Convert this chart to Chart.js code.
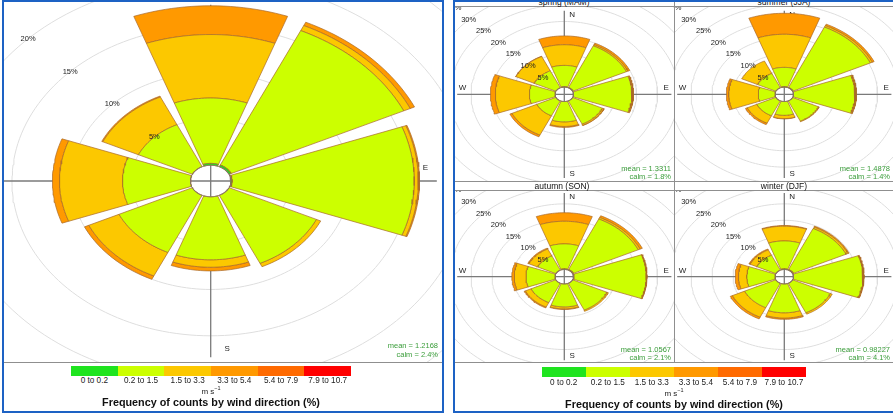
<!DOCTYPE html>
<html lang="en">
<head>
<meta charset="UTF-8">
<title>Wind rose</title>
<style>
    body {
        margin: 0;
        background: #fff;
        font-family: 'Liberation Sans', Arial, sans-serif;
        width: 893px;
        height: 415px;
        overflow: hidden;
        position: relative;
    }
    .frame {
        position: absolute;
        border: 2px solid #1d62c4;
        box-sizing: border-box;
        z-index: 5;
    }
    .rule {
        position: absolute;
        background: #8f8f8f;
        z-index: 3;
    }
    canvas { position: absolute; }
    .txt {
        position: absolute;
        white-space: nowrap;
        line-height: 1;
        z-index: 4;
    }
    .strip { font-size: 8.5px; color: #111; transform: translate(-50%, -50%); }
    .stat { font-size: 7.5px; color: #3a9d3a; text-align: right; transform: translate(-100%, -50%); }
    .key { font-size: 8.2px; color: #222; transform: translate(-50%, -50%); }
    .unit { font-size: 8px; color: #222; transform: translate(-50%, -50%); }
    .unit sup { font-size: 5.5px; }
    .ktitle { font-size: 10.8px; font-weight: bold; color: #111; transform: translate(-50%, -50%); }
    .box { position: absolute; z-index: 4; }
</style>
</head>
<body>

<div class="frame" style="left:2px;top:0;width:442px;height:413px"></div>
<div class="frame" style="left:453px;top:0;width:442px;height:413px"></div>

<script src="https://cdn.jsdelivr.net/npm/chart.js"></script>
<script>
    // wind sectors and speed classes (m/s)
    const directions = ['N', 'NE', 'E', 'SE', 'S', 'SW', 'W', 'NW'];
    const speedBins = ['0 to 0.2', '0.2 to 1.5', '1.5 to 3.3', '3.3 to 5.4', '5.4 to 7.9', '7.9 to 10.7'];
    const binColours = ['#1fe41f', '#ccff00', '#fcc800', '#ff9900', '#ff6a00', '#ff0000'];

    // frequency (%) : one row per speed class, one column per direction
    const allYear = [
        [0.2, 0.2, 0.1, 0, 0, 0, 0, 0],
        [7.05, 16.0, 15.3, 8.1, 6.8, 6.8, 5.7, 5.0],
        [6.85, 0.6, 0.35, 0.4, 0.8, 2.8, 5.3, 3.3],
        [3.1, 0.4, 0.1, 0, 0.4, 0.4, 0.6, 0.1],
        [0, 0, 0, 0, 0, 0, 0, 0],
        [0, 0, 0, 0, 0, 0, 0, 0]
    ];
    const spring = [
        [0.1, 0.1, 0, 0, 0, 0, 0, 0],
        [6.5, 14.0, 13.9, 7.8, 6.2, 5.0, 6.1, 5.7],
        [6.3, 0.4, 0.2, 0.4, 1.4, 6.5, 8.1, 4.8],
        [2.7, 0.5, 0.2, 0.1, 0.3, 0.6, 1.2, 0.1],
        [0, 0, 0, 0, 0, 0, 0, 0],
        [0, 0, 0, 0, 0, 0, 0, 0]
    ];
    const summer = [
        [0.1, 0.1, 0, 0, 0, 0, 0, 0],
        [5.9, 20.3, 14.6, 6.8, 4.2, 5.0, 4.0, 4.8],
        [10.1, 0.5, 0.2, 0.2, 1.0, 2.5, 7.0, 4.2],
        [6.4, 0.5, 0.2, 0, 0.1, 0.5, 0.6, 0],
        [0, 0, 0, 0, 0, 0, 0, 0],
        [0, 0, 0, 0, 0, 0, 0, 0]
    ];
    const autumn = [
        [0.2, 0.2, 0.1, 0, 0, 0, 0, 0],
        [7.6, 17.0, 17.2, 9.0, 7.0, 6.5, 6.9, 4.8],
        [6.9, 0.5, 0.1, 0.4, 0.6, 1.5, 2.8, 2.3],
        [2.6, 0.6, 0.1, 0, 0.2, 0.3, 0.6, 0.3],
        [0, 0, 0, 0, 0, 0, 0, 0],
        [0, 0, 0, 0, 0, 0, 0, 0]
    ];
    const winter = [
        [0.2, 0.2, 0, 0, 0, 0, 0, 0],
        [8.5, 13.8, 16.5, 9.9, 8.8, 8.2, 6.7, 5.0],
        [4.5, 0.5, 0.1, 0.5, 1.6, 3.2, 2.0, 1.8],
        [0.2, 0.3, 0.2, 0, 0.4, 0.6, 0.8, 0.3],
        [0, 0, 0, 0, 0, 0, 0, 0],
        [0, 0, 0, 0, 0, 0, 0, 0]
    ];

    const ringTicks = [5, 10, 15, 20, 25, 30, 35, 40];
    const seasonNames = ['spring (MAM)', 'summer (JJA)', 'autumn (SON)', 'winter (DJF)'];
    const meanSpeeds = ['1.2168', '1.3311', '1.4878', '1.0567', '0.98227'];
    const calmShares = ['2.4%', '1.8%', '1.4%', '2.1%', '4.1%'];

    const HALF = 20;   // half width of a paddle, degrees

    function rad(a) { return a * Math.PI / 180; }

    function ellipse(r) {
        const pts = [];
        for (let a = 0; a <= 360; a += 2) pts.push({x: r * Math.sin(rad(a)), y: r * Math.cos(rad(a))});
        return pts;
    }

    function paddle(r0, r1, centre) {
        const pts = [];
        const n = 24;
        for (let i = 0; i <= n; i++) {
            const a = rad(centre - HALF + 2 * HALF * i / n);
            pts.push({x: r1 * Math.sin(a), y: r1 * Math.cos(a)});
        }
        for (let i = n; i >= 0; i--) {
            const a = rad(centre - HALF + 2 * HALF * i / n);
            pts.push({x: r0 * Math.sin(a), y: r0 * Math.cos(a)});
        }
        pts.push(pts[0]);
        return pts;
    }

    function roseDatasets(freq, offset, axisLen) {
        const sets = [];
        ringTicks.forEach(p => sets.push({
            data: ellipse(offset + p), borderColor: '#dedede', borderWidth: 1, fill: false, order: 3
        }));
        sets.push({data: [{x: 0, y: -axisLen}, {x: 0, y: axisLen}], borderColor: '#7a7a7a', borderWidth: 1.3, order: 2});
        sets.push({data: [{x: -axisLen, y: 0}, {x: axisLen, y: 0}], borderColor: '#7a7a7a', borderWidth: 1.3, order: 2});
        directions.forEach((d, j) => {
            let r = offset;
            freq.forEach((row, b) => {
                const v = row[j];
                if (v <= 0) return;
                sets.push({
                    data: paddle(r, r + v, j * 45),
                    backgroundColor: binColours[b],
                    borderColor: '#a9692a',
                    borderWidth: 0.7,
                    fill: 'shape',
                    order: 1
                });
                r += v;
            });
        });
        sets.push({data: ellipse(offset), borderColor: '#857565', borderWidth: 1, fill: false, order: 0});
        sets.forEach(s => { s.showLine = true; s.pointRadius = 0; s.tension = 0; });
        return sets;
    }

    // text drawn on the rose: compass letters under the paddles, % labels over them
    const roseText = {
        id: 'roseText',
        beforeDatasetsDraw(chart, args, o) {
            const {ctx, scales: {x, y}} = chart;
            const r = o.axisLen * 0.95, s = o.axisLen * 0.073;
            ctx.save();
            ctx.font = '8px "Liberation Sans", Arial, sans-serif';
            ctx.fillStyle = '#222';
            ctx.textAlign = 'center';
            ctx.textBaseline = 'middle';
            [['N', s, r], ['E', r, s], ['S', s, -r], ['W', -r, s]].forEach(([t, dx, dy]) => {
                ctx.fillText(t, x.getPixelForValue(dx), y.getPixelForValue(dy));
            });
            ctx.restore();
        },
        afterDatasetsDraw(chart, args, o) {
            const {ctx, scales: {x, y}} = chart;
            ctx.save();
            ctx.font = '7.5px "Liberation Sans", Arial, sans-serif';
            ctx.fillStyle = '#222';
            ctx.textAlign = 'center';
            ctx.textBaseline = 'middle';
            ringTicks.forEach(p => {
                const r = (o.offset + p) * Math.SQRT1_2;
                ctx.fillText(p + '%', x.getPixelForValue(-r), y.getPixelForValue(r));
            });
            ctx.restore();
        }
    };

    function addText(cls, html, left, top) {
        const el = document.createElement('div');
        el.className = 'txt ' + cls;
        el.innerHTML = html;
        el.style.left = left + 'px';
        el.style.top = top + 'px';
        document.body.appendChild(el);
        return el;
    }

    function addRule(left, top, width, height) {
        const el = document.createElement('div');
        el.className = 'rule';
        Object.assign(el.style, {left: left + 'px', top: top + 'px', width: width + 'px', height: height + 'px'});
        document.body.appendChild(el);
    }

    function drawRose(freq, box, centre, ppx, ppy, offset, axisLen) {
        const cv = document.createElement('canvas');
        cv.width = box[2];
        cv.height = box[3];
        cv.style.left = box[0] + 'px';
        cv.style.top = box[1] + 'px';
        document.body.appendChild(cv);
        new Chart(cv, {
            type: 'scatter',
            data: {datasets: roseDatasets(freq, offset, axisLen)},
            options: {
                responsive: false,
                animation: false,
                events: [],
                layout: {padding: 0},
                plugins: {
                    legend: {display: false},
                    tooltip: {enabled: false},
                    roseText: {offset: offset, axisLen: axisLen}
                },
                scales: {
                    x: {type: 'linear', display: false,
                        min: -(centre[0] - box[0]) / ppx, max: (box[0] + box[2] - centre[0]) / ppx},
                    y: {type: 'linear', display: false,
                        min: -(box[1] + box[3] - centre[1]) / ppy, max: (centre[1] - box[1]) / ppy}
                }
            },
            plugins: [roseText]
        });
    }

    function drawKey(x0, top, boxW, labelY, centreX) {
        binColours.forEach((c, i) => {
            const b = document.createElement('div');
            b.className = 'box';
            Object.assign(b.style, {left: (x0 + i * boxW) + 'px', top: top + 'px', width: boxW + 'px', height: '9.5px', background: c});
            document.body.appendChild(b);
            addText('key', speedBins[i], x0 + (i + 0.5) * boxW, labelY);
        });
        addText('unit', 'm s<sup>\u22121</sup>', centreX, labelY + 10);
        addText('ktitle', 'Frequency of counts by wind direction (%)', centreX, labelY + 21);
    }

    // left panel: whole year
    drawRose(allYear, [4, 2, 438, 360], [210.7, 181], 11.9, 9.27, 1.7, 19);
    addRule(4, 361.5, 438, 1.3);
    addText('stat', 'mean = ' + meanSpeeds[0], 438, 346.3);
    addText('stat', 'calm = ' + calmShares[0], 438, 354.8);
    drawKey(71, 366, 46.67, 381, 211);

    // right panel: seasons
    const seasons = [spring, summer, autumn, winter];
    const seasonBoxes = [[455, 7, 219, 174], [675, 7, 218, 174], [455, 190, 219, 172], [675, 190, 218, 172]];
    const seasonCentres = [[564.3, 94.3], [784.3, 94.3], [564.3, 276.7], [784.3, 276.7]];
    seasons.forEach((f, i) => {
        drawRose(f, seasonBoxes[i], seasonCentres[i], 4.2, 3.28, 2.2, 25.5);
        const right = seasonBoxes[i][0] + seasonBoxes[i][2] - 3;
        const top = seasonBoxes[i][1] + seasonBoxes[i][3];
        addText('stat', 'mean = ' + meanSpeeds[i + 1], right, top - 12.5);
        addText('stat', 'calm = ' + calmShares[i + 1], right, top - 4.5);
    });
    addRule(455, 6, 440, 1.3);
    addRule(455, 180.5, 440, 1.3);
    addRule(455, 189.5, 440, 1.3);
    addRule(455, 361.5, 440, 1.3);
    addRule(673.5, 0, 1.5, 362);
    addText('strip', seasonNames[0], 564, 2);
    addText('strip', seasonNames[1], 784, 2);
    addText('strip', seasonNames[2], 562, 185.5);
    addText('strip', seasonNames[3], 784, 185.5);
    drawKey(541.7, 367.3, 44.05, 382.7, 674);
</script>

</body>
</html>
